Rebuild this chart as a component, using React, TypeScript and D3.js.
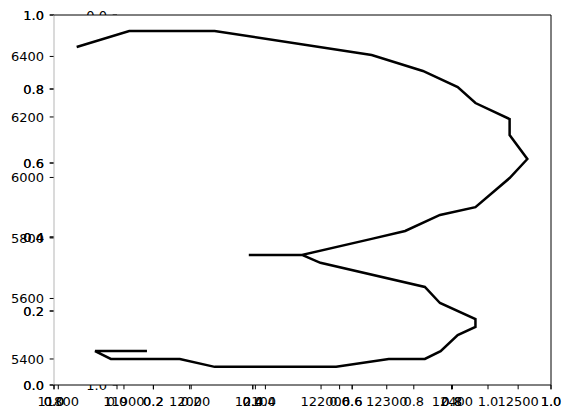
import * as d3 from "d3";

// traced outline (data units)
const xValues = [11828, 11908, 12038, 12277, 12355, 12408, 12435, 12487, 12487, 12514, 12487, 12435, 12381, 12328, 12277, 12171, 12090, 12171, 12199, 12358, 12381, 12435, 12435, 12408, 12382, 12358, 12303, 12223, 12038, 11985, 11880, 11856, 11935];
const yValues = [6431, 6484, 6484, 6405, 6352, 6299, 6246, 6193, 6140, 6061, 5998, 5902, 5876, 5823, 5797, 5744, 5744, 5744, 5718, 5638, 5585, 5532, 5506, 5479, 5426, 5400, 5400, 5374, 5374, 5400, 5400, 5426, 5426];

const xTicks = [11800, 11900, 12000, 12100, 12200, 12300, 12400, 12500];
const yTicks = [5400, 5600, 5800, 6000, 6200, 6400];
const unitTicks = [0, 0.2, 0.4, 0.6, 0.8, 1.0];

const W = 571, H = 418;
const L = 54, R = 551, T = 15, B = 385;
const FONT = "DejaVu Sans";
const FS = 13;
const TL = 4.3;
const XLAB = B + 11.5; // top of x tick labels
const YPAD = 10; // gap from spine to y label end

export default function App() {
  const x = d3.scaleLinear().domain([11793.5, 12550]).range([L, R]);
  const y = d3.scaleLinear().domain([5314, 6537]).range([B, T]);
  // default 0..1 overlay axes
  const ux = d3.scaleLinear().domain([0, 1]).range([L, R]);
  const uy = d3.scaleLinear().domain([0, 1]).range([B, T]);
  // hidden third axes (inverted y) sitting behind the main one
  const tx = d3.scaleLinear().domain([0, 1]).range([117, 488]);
  const ty = d3.scaleLinear().domain([0, 1]).range([T, B]);

  const pts = xValues.map((v, i) => [x(v), y(yValues[i])] as [number, number]);
  const line = d3.line()(pts) as string;
  const fmt = d3.format(".1f");

  return (
    <svg width={W} height={H} style={{ position: "absolute", left: 0, top: 0 }} fontFamily={FONT} fontSize={FS}>
      <rect width={W} height={H} fill="#fff" />

      {/* third axes: drawn first, mostly covered */}
      {unitTicks.map(t => (
        <g key={"ty" + t}>
          <line x1={117 - TL} x2={117} y1={ty(t)} y2={ty(t)} stroke="#000" />
          <text x={117 - YPAD} y={ty(t)} dy="0.36em" textAnchor="end">{fmt(t)}</text>
        </g>
      ))}
      {unitTicks.map(t => (
        <g key={"tx" + t}>
          <line x1={tx(t)} x2={tx(t)} y1={B} y2={B + TL} stroke="#000" />
          <text x={tx(t)} y={XLAB} dy="0.73em" textAnchor="middle">{fmt(t)}</text>
        </g>
      ))}

      {/* main axes background */}
      <rect x={L} y={T} width={R - L} height={B - T} fill="#fff" />

      {/* main data ticks */}
      {xTicks.map(t => (
        <g key={"x" + t}>
          <line x1={x(t)} x2={x(t)} y1={B} y2={B + TL} stroke="#000" />
          <text x={x(t)} y={XLAB} dy="0.73em" textAnchor="middle">{t}</text>
        </g>
      ))}
      {yTicks.map(t => (
        <g key={"y" + t}>
          <line x1={L - TL} x2={L} y1={y(t)} y2={y(t)} stroke="#000" />
          <text x={L - YPAD} y={y(t)} dy="0.36em" textAnchor="end">{t}</text>
        </g>
      ))}

      {/* overlay unit axes, doubled */}
      {[0, 1].map(k => (
        <g key={"u" + k}>
          {unitTicks.map(t => (
            <g key={"ux" + t}>
              <line x1={ux(t)} x2={ux(t)} y1={B} y2={B + TL} stroke="#000" />
              <text x={ux(t)} y={XLAB} dy="0.73em" textAnchor="middle">{fmt(t)}</text>
            </g>
          ))}
          {unitTicks.map(t => (
            <g key={"uy" + t}>
              <line x1={L - TL} x2={L} y1={uy(t)} y2={uy(t)} stroke="#000" />
              <text x={L - YPAD} y={uy(t)} dy="0.36em" textAnchor="end">{fmt(t)}</text>
            </g>
          ))}
        </g>
      ))}

      <path d={line} fill="none" stroke="#000" strokeWidth={2.5} strokeLinejoin="miter" />

      {/* spines */}
      <line x1={L} x2={L} y1={T} y2={B} stroke="#b5b5b5" />
      <line x1={R} x2={R} y1={T} y2={B} stroke="#000" />
      <line x1={L} x2={R} y1={T} y2={T} stroke="#000" />
      <line x1={L} x2={R} y1={B} y2={B} stroke="#000" />
    </svg>
  );
}
